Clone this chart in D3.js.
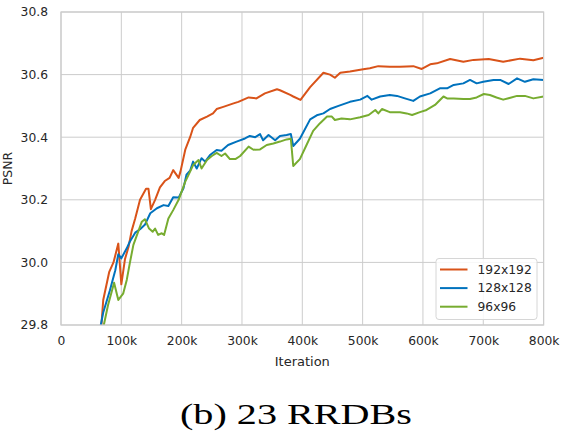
<!DOCTYPE html>
<html><head><meta charset="utf-8">
<script src="https://cdn.jsdelivr.net/npm/d3@7"></script>
<style>body{margin:0;background:#fff}svg{display:block}</style>
</head><body>
<script>
const xTicks = [0,100000,200000,300000,400000,500000,600000,700000,800000];
const xTickLabels = ["0","100k","200k","300k","400k","500k","600k","700k","800k"];
const yTicks = [29.8,30.0,30.2,30.4,30.6,30.8];
const seriesNames = ["192x192","128x128","96x96"];
const seriesColors = ["#D95319","#0072BD","#77AC30"];

const iter192 = [60,67,70,80,87,95,100,106,112,117,123,131,141,145,149,156,164,172,180,186,195,198,206,214,219,230,242,252,258,269,286,294,311,324,338,358,363,380,385,397,413,435,446,454,463,479,501,512,526,545,562,584,598,612,623,645,667,684,709,733,761,783,800];
const psnr192 = [29.72,29.80,29.88,29.97,30.00,30.06,29.93,30.01,30.05,30.10,30.14,30.20,30.235,30.235,30.17,30.20,30.24,30.26,30.27,30.295,30.27,30.29,30.36,30.40,30.43,30.455,30.466,30.476,30.49,30.497,30.508,30.513,30.527,30.524,30.54,30.553,30.55,30.535,30.53,30.519,30.56,30.606,30.60,30.59,30.606,30.61,30.617,30.62,30.627,30.625,30.625,30.627,30.618,30.633,30.636,30.65,30.641,30.647,30.65,30.641,30.651,30.646,30.654];

const iter128 = [60,66,70,81,90,95,100,109,114,123,131,139,148,159,170,178,186,195,203,208,214,219,225,233,239,247,258,266,277,291,305,313,322,330,335,344,355,363,374,381,385,396,413,424,435,446,460,479,496,508,515,529,545,557,570,584,595,612,628,640,651,667,678,689,700,717,728,742,756,769,783,800];
const psnr128 = [29.72,29.80,29.84,29.91,29.975,30.026,30.013,30.045,30.066,30.095,30.106,30.12,30.157,30.173,30.183,30.18,30.208,30.207,30.237,30.28,30.293,30.322,30.30,30.333,30.322,30.343,30.359,30.357,30.375,30.386,30.396,30.404,30.40,30.41,30.39,30.407,30.39,30.404,30.407,30.41,30.372,30.395,30.457,30.47,30.476,30.49,30.50,30.513,30.52,30.532,30.52,30.53,30.535,30.532,30.524,30.516,30.53,30.54,30.556,30.556,30.567,30.572,30.583,30.572,30.577,30.583,30.583,30.57,30.588,30.577,30.585,30.583];

const iter96 = [65,71,78,84,88,95,103,109,114,120,126,134,139,146,152,156,161,167,171,178,186,195,206,214,219,228,233,242,250,258,266,272,280,289,297,311,319,330,341,352,363,374,381,385,396,407,418,429,441,449,454,465,479,496,510,521,526,532,545,562,573,582,595,606,620,634,640,651,667,678,689,701,711,722,733,745,756,769,783,800];
const psnr96 = [29.72,29.80,29.864,29.906,29.935,29.88,29.90,29.944,29.997,30.056,30.088,30.13,30.138,30.108,30.098,30.108,30.088,30.093,30.088,30.14,30.167,30.20,30.258,30.29,30.311,30.327,30.30,30.327,30.34,30.35,30.34,30.348,30.33,30.33,30.34,30.37,30.36,30.361,30.375,30.38,30.386,30.393,30.395,30.308,30.33,30.375,30.42,30.444,30.466,30.466,30.455,30.46,30.457,30.464,30.471,30.487,30.476,30.49,30.48,30.48,30.476,30.471,30.48,30.487,30.503,30.53,30.524,30.524,30.522,30.522,30.527,30.538,30.535,30.527,30.52,30.526,30.532,30.532,30.524,30.53];

const W = 561, H = 432;
const M = {left:61, right:W-543.6, top:12, bottom:H-325};
const svg = d3.select("body").append("svg").attr("width",W).attr("height",H)
  .style("font-family","'DejaVu Sans', sans-serif");

const x = d3.scaleLinear().domain([0,800000]).range([M.left, W-M.right]);
const y = d3.scaleLinear().domain([29.8,30.8]).range([H-M.bottom, M.top]);

const gridColor = "#cccccc";
// grid
svg.append("g").selectAll("line").data(xTicks).join("line")
  .attr("x1",d=>x(d)).attr("x2",d=>x(d)).attr("y1",y(29.8)).attr("y2",y(30.8))
  .attr("stroke",gridColor).attr("stroke-width",1);
svg.append("g").selectAll("line").data(yTicks).join("line")
  .attr("x1",x(0)).attr("x2",x(800000)).attr("y1",d=>y(d)).attr("y2",d=>y(d))
  .attr("stroke",gridColor).attr("stroke-width",1);

// axes
const xAxis = d3.axisBottom(x).tickValues(xTicks).tickFormat((d,i)=>xTickLabels[i]).tickSize(0).tickPadding(11);
const gx = svg.append("g").attr("transform",`translate(0,${y(29.8)})`).call(xAxis);
gx.select(".domain").remove();
gx.selectAll("text").attr("font-size",12.3).attr("fill","#262626").attr("font-family","'DejaVu Sans', sans-serif");

const yAxis = d3.axisLeft(y).tickValues(yTicks).tickFormat(d3.format(".1f")).tickSize(0).tickPadding(13);
const gy = svg.append("g").attr("transform",`translate(${x(0)},0)`).call(yAxis);
gy.select(".domain").remove();
gy.selectAll("text").attr("font-size",12.3).attr("fill","#262626").attr("font-family","'DejaVu Sans', sans-serif");

// lines
svg.append("clipPath").attr("id","clip").append("rect")
  .attr("x",x(0)).attr("y",y(30.8)).attr("width",x(800000)-x(0)).attr("height",y(29.8)-y(30.8));
const iters = [iter192, iter128, iter96];
const vals = [psnr192, psnr128, psnr96];
const line = d3.line().x(d=>x(d[0]*1000)).y(d=>y(d[1]));
const gLines = svg.append("g").attr("clip-path","url(#clip)");
iters.forEach((it,k)=>{
  const data = it.map((v,i)=>[v, vals[k][i]]);
  gLines.append("path").datum(data).attr("d",line)
    .attr("fill","none").attr("stroke",seriesColors[k]).attr("stroke-width",2)
    .attr("stroke-linejoin","round");
});

// border
svg.append("rect").attr("x",x(0)).attr("y",y(30.8)).attr("width",x(800000)-x(0)).attr("height",y(29.8)-y(30.8))
  .attr("fill","none").attr("stroke",gridColor).attr("stroke-width",1.2);

// axis labels
svg.append("text").attr("x",(x(0)+x(800000))/2).attr("y",366).attr("text-anchor","middle")
  .attr("font-size",13).attr("fill","#262626").text("Iteration");
svg.append("text").attr("transform",`translate(12,${(y(29.8)+y(30.8))/2}) rotate(-90)`)
  .attr("text-anchor","middle").attr("font-size",12.5).attr("fill","#262626").text("PSNR");

// legend
const lg = svg.append("g");
lg.append("rect").attr("x",436).attr("y",258.5).attr("width",101).attr("height",61).attr("rx",3)
  .attr("fill","#ffffff").attr("fill-opacity",0.85).attr("stroke","#d6d6d6").attr("stroke-width",1);
seriesNames.forEach((n,i)=>{
  const yy = 269.5 + i*18.6;
  lg.append("line").attr("x1",440).attr("x2",467.5).attr("y1",yy).attr("y2",yy)
    .attr("stroke",seriesColors[i]).attr("stroke-width",2);
  lg.append("text").attr("x",477.5).attr("y",yy+4.3).attr("font-size",12.3).attr("fill","#262626").text(n);
});

// title
svg.append("text").attr("x",296).attr("y",424).attr("text-anchor","middle")
  .attr("font-family","'Liberation Serif', 'DejaVu Serif', serif").attr("font-size",28.5)
  .attr("fill","#000").attr("textLength",232).attr("lengthAdjust","spacingAndGlyphs").text("(b) 23 RRDBs");
</script>
</body></html>
